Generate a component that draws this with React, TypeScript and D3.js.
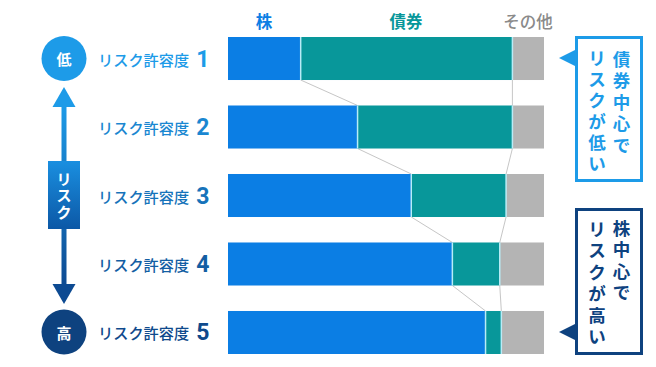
import React from "react";
import * as d3 from "d3";

const levels = ["1", "2", "3", "4", "5"];
const stocks = [23, 41, 58, 71, 81.5];
const bonds = [67, 49, 30, 15, 5];
const others = [10, 10, 12, 14, 13.5];
const headers = ["株", "債券", "その他"];
const rowLabel = "リスク許容度";
const axisLabel = "リスク";
const lowLabel = "低";
const highLabel = "高";
const callout1 = ["債券中心で", "リスクが低い"];
const callout2 = ["株中心で", "リスクが高い"];

const W = 656, H = 367;
const C_STOCK = "#0b7ee4";
const C_BOND = "#08979a";
const C_OTHER = "#b4b4b4";
const C_LIGHT = "#1d9be8";
const C_DARK = "#0e427f";
const FONT = "'Noto Sans CJK JP', 'Noto Sans', sans-serif";

function VText({ text, x, y0, step, size, color }) {
  return (
    <g>
      {Array.from(text).map((ch, i) => (
        <text key={i} x={x} y={y0 + i * step} textAnchor="middle" dominantBaseline="central"
          fontSize={size} fontWeight={700} fill={color} fontFamily={FONT}>{ch}</text>
      ))}
    </g>
  );
}

export default function App() {
  const x = d3.scaleLinear().domain([0, 100]).range([228, 544]);
  const y = d3.scaleBand().domain(levels).range([37, 354]).paddingInner(0.372).paddingOuter(0);
  const bw = y.bandwidth();
  const labelColor = d3.scaleLinear<string>().domain([0, 4]).range([C_LIGHT, "#0f4a8c"]).interpolate(d3.interpolateRgb);

  const rows = levels.map((l, i) => {
    const s0 = 0, s1 = stocks[i], b1 = stocks[i] + bonds[i], o1 = b1 + others[i];
    return { l, i, s0, s1, b1, o1, y: y(l)! };
  });

  return (
    <svg width={W} height={H} style={{ position: "absolute", left: 0, top: 0 }}>
      <defs>
        <linearGradient id="shaft" x1="0" y1="0" x2="0" y2="1">
          <stop offset="0" stopColor={C_LIGHT} />
          <stop offset="1" stopColor="#0d4a92" />
        </linearGradient>
        <linearGradient id="box" x1="0" y1="0" x2="0" y2="1">
          <stop offset="0" stopColor="#1a8fe0" />
          <stop offset="1" stopColor="#0c58a6" />
        </linearGradient>
      </defs>
      <rect width={W} height={H} fill="#fff" />

      {/* headers */}
      <text x={264} y={21} textAnchor="middle" dominantBaseline="central" fontSize={16.5} fontWeight={700} fill={C_STOCK} fontFamily={FONT}>{headers[0]}</text>
      <text x={406} y={21} textAnchor="middle" dominantBaseline="central" fontSize={16.5} fontWeight={700} fill={C_BOND} fontFamily={FONT}>{headers[1]}</text>
      <text x={528} y={21} textAnchor="middle" dominantBaseline="central" fontSize={16.5} fontWeight={500} fill="#8a8a8a" fontFamily={FONT}>{headers[2]}</text>

      {/* connectors */}
      {rows.slice(0, -1).map((r, i) => {
        const n = rows[i + 1];
        return (
          <g key={"c" + i} stroke="#c6c6c6" strokeWidth={1}>
            <line x1={x(r.s1)} y1={r.y + bw} x2={x(n.s1)} y2={n.y} />
            <line x1={x(r.b1)} y1={r.y + bw} x2={x(n.b1)} y2={n.y} />
          </g>
        );
      })}

      {/* bars */}
      {rows.map((r) => (
        <g key={r.l}>
          <rect x={x(r.s0)} y={r.y} width={x(r.s1) - x(r.s0)} height={bw} fill={C_STOCK} />
          <rect x={x(r.s1)} y={r.y} width={x(r.b1) - x(r.s1)} height={bw} fill={C_BOND} />
          <rect x={x(r.b1)} y={r.y} width={x(r.o1) - x(r.b1)} height={bw} fill={C_OTHER} />
          <line x1={x(r.s1)} x2={x(r.s1)} y1={r.y} y2={r.y + bw} stroke="#b8ecf6" strokeWidth={1.5} />
          <line x1={x(r.b1)} x2={x(r.b1)} y1={r.y} y2={r.y + bw} stroke="#b8ecf6" strokeWidth={1.5} />
          <text x={98} y={r.y + bw / 2} dominantBaseline="central" fontFamily={FONT} fill={labelColor(r.i)}>
            <tspan fontSize={15.2} fontWeight={500}>{rowLabel}</tspan>
            <tspan dx={7} fontSize={23} fontWeight={700} fontFamily="Roboto, 'Noto Sans', sans-serif">{r.l}</tspan>
          </text>
        </g>
      ))}

      {/* left risk axis */}
      <rect x={61.5} y={105} width={5} height={181} fill="url(#shaft)" />
      <path d="M64,87 L75.5,107 L52.5,107 Z" fill={C_LIGHT} />
      <path d="M64,304 L75.5,284 L52.5,284 Z" fill="#0d4a92" />
      <rect x={48} y={161} width={32} height={68} fill="url(#box)" />
      <VText text={axisLabel} x={64} y0={178} step={16.5} size={15} color="#fff" />
      <circle cx={64} cy={58.5} r={22.5} fill={C_LIGHT} />
      <text x={64} y={58.5} textAnchor="middle" dominantBaseline="central" fontSize={15} fontWeight={700} fill="#fff" fontFamily={FONT}>{lowLabel}</text>
      <circle cx={64} cy={332} r={22.5} fill={C_DARK} />
      <text x={64} y={332} textAnchor="middle" dominantBaseline="central" fontSize={15} fontWeight={700} fill="#fff" fontFamily={FONT}>{highLabel}</text>

      {/* callout 1 */}
      <rect x={576.5} y={37.5} width={65} height={143} fill="#fff" stroke={C_LIGHT} strokeWidth={3} />
      <path d="M559,58 L576,49.5 L576,66.5 Z" fill={C_LIGHT} />
      <VText text={callout1[0]} x={621.5} y0={58} step={21.5} size={17.5} color={C_LIGHT} />
      <VText text={callout1[1]} x={597} y0={57} step={21} size={17.5} color={C_LIGHT} />

      {/* callout 2 */}
      <rect x={576.5} y={209.5} width={65} height={144} fill="#fff" stroke={C_DARK} strokeWidth={3} />
      <path d="M559,332 L576,323.5 L576,340.5 Z" fill={C_DARK} />
      <VText text={callout2[0]} x={621.5} y0={227} step={21.5} size={17.5} color={C_DARK} />
      <VText text={callout2[1]} x={597} y0={228} step={21.5} size={17.5} color={C_DARK} />
    </svg>
  );
}
